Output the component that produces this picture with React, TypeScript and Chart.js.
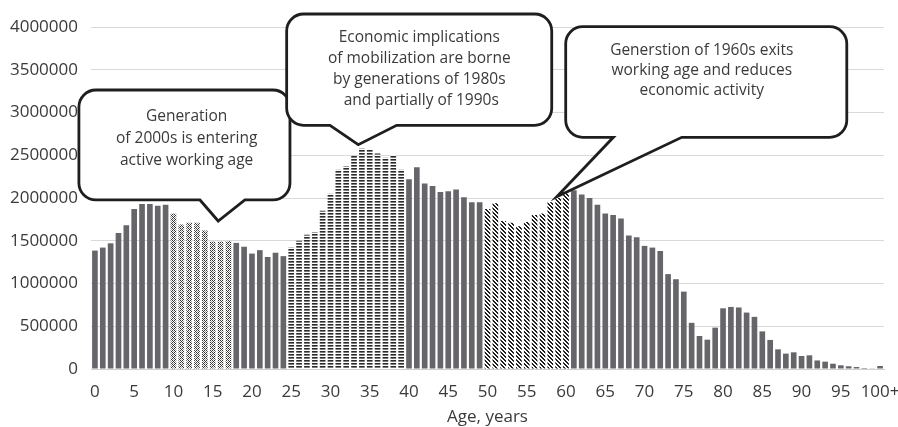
import React, { useEffect, useRef } from "react";
import { Chart, registerables } from "chart.js";

Chart.register(...registerables);

// Categories: single years of age, last one is "100+"
const AGE_LABELS: string[] = Array.from({ length: 101 }, (_, i) => (i === 100 ? "100+" : String(i)));

// Population by single year of age
const POP_0_9 = [1385000, 1420000, 1470000, 1590000, 1680000, 1870000, 1930000, 1930000, 1910000, 1920000];
const POP_10_19 = [1820000, 1690000, 1710000, 1710000, 1620000, 1490000, 1490000, 1495000, 1475000, 1430000];
const POP_20_29 = [1350000, 1390000, 1310000, 1360000, 1320000, 1420000, 1500000, 1570000, 1600000, 1850000];
const POP_30_39 = [2050000, 2330000, 2370000, 2490000, 2580000, 2565000, 2520000, 2470000, 2500000, 2330000];
const POP_40_49 = [2220000, 2360000, 2170000, 2140000, 2070000, 2080000, 2100000, 2010000, 1950000, 1950000];
const POP_50_59 = [1870000, 1940000, 1730000, 1710000, 1670000, 1720000, 1800000, 1820000, 1950000, 2000000];
const POP_60_69 = [2060000, 2090000, 2040000, 2000000, 1920000, 1820000, 1800000, 1760000, 1560000, 1540000];
const POP_70_79 = [1440000, 1420000, 1380000, 1110000, 1050000, 905000, 540000, 386000, 343000, 484000];
const POP_80_89 = [710000, 726000, 720000, 660000, 610000, 440000, 340000, 230000, 180000, 195000];
const POP_90_100 = [152000, 160000, 100000, 86000, 62000, 43000, 32000, 23000, 12000, 8000, 35000];

const POPULATION = [
  ...POP_0_9, ...POP_10_19, ...POP_20_29, ...POP_30_39, ...POP_40_49,
  ...POP_50_59, ...POP_60_69, ...POP_70_79, ...POP_80_89, ...POP_90_100,
];

// Highlighted cohorts (age index ranges, inclusive)
const COHORT_2000S = [10, 17];
const COHORT_1980S = [25, 39];
const COHORT_1960S = [50, 60];

// Y axis ticks
const Y_MIN = 0;
const Y_MAX = 4000000;
const Y_STEP = 500000;

// Callouts, anchored in data space (x = age index, y = population)
const CALLOUTS = [
  {
    lines: ["Generation", "of 2000s is entering", "active working age"],
    left: -2.04, right: 24.84, top: 3263000, bottom: 1977000,
    baseA: 13.38, baseB: 19.1, tipX: 15.7, tipY: 1731000,
    textX: 11.68, firstLine: 26.7, lineH: 21.7,
  },
  {
    lines: ["Economic implications", "of mobilization are borne", "by generations of 1980s", " and partially of 1990s"],
    left: 24.42, right: 58.18, top: 4152000, bottom: 2850000,
    baseA: 29.94, baseB: 38.43, tipX: 33.54, tipY: 2623000,
    textX: 41.31, firstLine: 24, lineH: 20.9,
  },
  {
    lines: ["Generstion of 1960s exits", "working age and reduces", "economic activity"],
    left: 59.96, right: 95.76, top: 4004000, bottom: 2710000,
    baseA: 66.03, baseB: 74.74, tipX: 58.82, tipY: 2015000,
    textX: 77.29, firstLine: 24, lineH: 20,
  },
];

const SOLID = "#66666a";
const FONT = "'Open Sans', 'Noto Sans', sans-serif";
const TEXT = "#3a3a3a";

function makePattern(kind: string): CanvasPattern | string {
  const c = document.createElement("canvas");
  const ctx = c.getContext("2d");
  if (!ctx) return SOLID;
  const px = (x: number, y: number, col: string) => { ctx.fillStyle = col; ctx.fillRect(x, y, 1, 1); };
  if (kind === "check") {
    c.width = 4; c.height = 4;
    ctx.fillStyle = "#ffffff"; ctx.fillRect(0, 0, 4, 4);
    const D = "#333333", G = "#9a9a9a";
    px(0, 0, D); px(2, 0, D);
    px(1, 1, D); px(3, 1, G);
    px(0, 2, D); px(2, 2, D);
    px(1, 3, G); px(3, 3, D);
  } else if (kind === "dash") {
    c.width = 6; c.height = 3;
    ctx.fillStyle = "#ffffff"; ctx.fillRect(0, 0, 6, 3);
    ctx.fillStyle = "#2a2a2a"; ctx.fillRect(0, 0, 6, 1);
    ctx.fillStyle = "#7a7a7a"; ctx.fillRect(0, 1, 6, 1);
  } else {
    c.width = 4; c.height = 4;
    ctx.fillStyle = "#ffffff"; ctx.fillRect(0, 0, 4, 4);
    for (let i = 0; i < 4; i++) {
      px(i, i, "#1e1e1e");
      px((i + 1) % 4, i, "#1e1e1e");
    }
  }
  return ctx.createPattern(c, "repeat") || SOLID;
}

const calloutPlugin = {
  id: "callouts",
  afterDraw(chart: any) {
    const ctx = chart.ctx as CanvasRenderingContext2D;
    const xs = chart.scales.x;
    const ys = chart.scales.y;
    const p0 = xs.getPixelForTick(0);
    const p100 = xs.getPixelForTick(100);
    const X = (i: number) => p0 + ((p100 - p0) * i) / 100;
    const Y = (v: number) => ys.getPixelForValue(v);
    ctx.save();
    for (const c of CALLOUTS) {
      const l = X(c.left), r = X(c.right), t = Y(c.top), b = Y(c.bottom);
      const ba = X(c.baseA), bb = X(c.baseB), tx = X(c.tipX), ty = Y(c.tipY);
      const rad = 17;
      ctx.beginPath();
      ctx.moveTo(l + rad, t);
      ctx.lineTo(r - rad, t);
      ctx.arcTo(r, t, r, t + rad, rad);
      ctx.lineTo(r, b - rad);
      ctx.arcTo(r, b, r - rad, b, rad);
      ctx.lineTo(bb, b);
      ctx.lineTo(tx, ty);
      ctx.lineTo(ba, b);
      ctx.lineTo(l + rad, b);
      ctx.arcTo(l, b, l, b - rad, rad);
      ctx.lineTo(l, t + rad);
      ctx.arcTo(l, t, l + rad, t, rad);
      ctx.closePath();
      ctx.fillStyle = "#ffffff";
      ctx.fill();
      ctx.lineWidth = 2.8;
      ctx.lineJoin = "miter";
      ctx.strokeStyle = "#1e1e1e";
      ctx.stroke();
      ctx.fillStyle = TEXT;
      ctx.font = `15.5px ${FONT}`;
      ctx.textAlign = "center";
      ctx.textBaseline = "middle";
      const cx = X(c.textX);
      c.lines.forEach((line, k) => {
        ctx.fillText(line, cx, t + c.firstLine + k * c.lineH);
      });
    }
    ctx.restore();
  },
};

export default function App() {
  const ref = useRef<HTMLCanvasElement | null>(null);
  useEffect(() => {
    if (!ref.current) return;
    const pCheck = makePattern("check");
    const pDash = makePattern("dash");
    const pDiag = makePattern("diag");
    const inR = (i: number, r: number[]) => i >= r[0] && i <= r[1];
    const colors = POPULATION.map((_, i) =>
      inR(i, COHORT_2000S) ? pCheck : inR(i, COHORT_1980S) ? pDash : inR(i, COHORT_1960S) ? pDiag : SOLID
    );
    const chart = new Chart(ref.current, {
      type: "bar",
      data: {
        labels: AGE_LABELS,
        datasets: [
          {
            data: POPULATION,
            backgroundColor: colors as any,
            borderWidth: 0,
            barPercentage: 0.72,
            categoryPercentage: 1,
          },
        ],
      },
      options: {
        animation: false,
        responsive: true,
        maintainAspectRatio: false,
        layout: { padding: { top: 27, right: 14, left: 0, bottom: 0 } },
        plugins: { legend: { display: false }, tooltip: { enabled: false } },
        scales: {
          x: {
            grid: { display: false, drawTicks: false },
            border: { display: true, color: "#cfcfcf", width: 1 },
            ticks: {
              autoSkip: false,
              maxRotation: 0,
              minRotation: 0,
              padding: 13,
              color: TEXT,
              font: { family: FONT, size: 17 },
              callback: (_v: any, idx: number) => (idx % 5 === 0 ? AGE_LABELS[idx] : ""),
            },
            title: {
              display: true,
              text: "Age, years",
              color: TEXT,
              font: { family: FONT, size: 17 },
              padding: { top: 0, bottom: 0 },
            },
            afterFit: (s: any) => { s.height = 58; s.paddingRight = 0; s.paddingLeft = 0; },
          },
          y: {
            min: Y_MIN,
            max: Y_MAX,
            grid: { color: "#d9d9d9", drawTicks: false, lineWidth: 1 },
            border: { display: false },
            ticks: {
              stepSize: Y_STEP,
              padding: 13,
              color: TEXT,
              font: { family: FONT, size: 17 },
              callback: (v: any) => String(v),
            },
            afterFit: (s: any) => { s.width = 91; s.paddingTop = 0; s.paddingBottom = 0; },
          },
        },
      },
      plugins: [calloutPlugin],
    });
    return () => chart.destroy();
  }, []);
  return (
    <div style={{ position: "fixed", left: 0, top: 0, width: 898, height: 427, background: "#fff" }}>
      <canvas ref={ref} />
    </div>
  );
}
